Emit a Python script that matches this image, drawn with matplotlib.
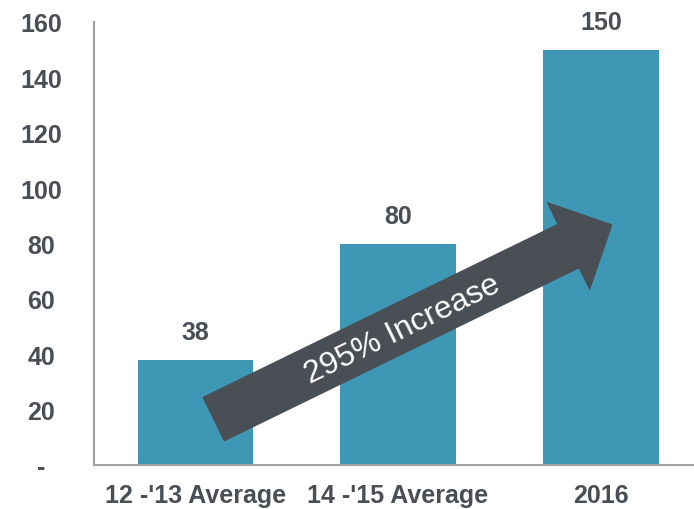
import matplotlib.pyplot as plt
from matplotlib.patches import FancyArrowPatch, ArrowStyle

plt.rcParams['font.family'] = ['Liberation Sans', 'DejaVu Sans']

categories = ["12 -'13 Average", "14 -'15 Average", "2016"]
values = [38, 80, 150]
yticks = [0, 20, 40, 60, 80, 100, 120, 140, 160]
ytick_labels = ['-', '20', '40', '60', '80', '100', '120', '140', '160']
arrow_text = '295% Increase'

bar_color = '#3f97b6'
text_color = '#4a4f56'
arrow_color = '#4a4e55'

fig = plt.figure(figsize=(6.94, 5.10), dpi=100)
ax = fig.add_axes([94 / 694, 44 / 510, 600 / 694, 443 / 510])

x = list(range(len(categories)))
ax.bar(x, values, width=0.57, color=bar_color, zorder=2)

for xi, v in zip(x, values):
    ax.annotate(str(v), (xi, v), xytext=(0, 20), textcoords='offset points',
                ha='center', va='center', fontsize=18, fontweight='bold',
                color=text_color)

ax.set_xlim(-0.5, 2.46)
ax.set_ylim(0, 160)
ax.set_yticks(yticks)
ax.set_yticklabels(ytick_labels)
ax.set_xticks(x)
ax.set_xticklabels(categories)

ax.tick_params(axis='y', length=0, pad=38, labelsize=18, labelcolor=text_color)
ax.tick_params(axis='x', length=0, pad=13, labelsize=18, labelcolor=text_color)
for lab in ax.get_yticklabels():
    lab.set_horizontalalignment('center')
    lab.set_fontweight('bold')
for lab in ax.get_xticklabels():
    lab.set_fontweight('bold')

for s in ['top', 'right']:
    ax.spines[s].set_visible(False)
for s in ['left', 'bottom']:
    ax.spines[s].set_color('#a0a0a0')
    ax.spines[s].set_linewidth(1.5)

# trend arrow
arrow = FancyArrowPatch((0.091, 16.6), (2.054, 86.7),
                        arrowstyle=ArrowStyle.Simple(head_length=34.5, head_width=69,
                                                     tail_width=34.6),
                        mutation_scale=1, shrinkA=0, shrinkB=0,
                        color=arrow_color, zorder=3)
ax.add_patch(arrow)
ax.text(1.023, 49, arrow_text, rotation=26, rotation_mode='anchor',
        ha='center', va='center', fontsize=23, color='white', zorder=4)

fig.savefig('out.png', dpi=100)
